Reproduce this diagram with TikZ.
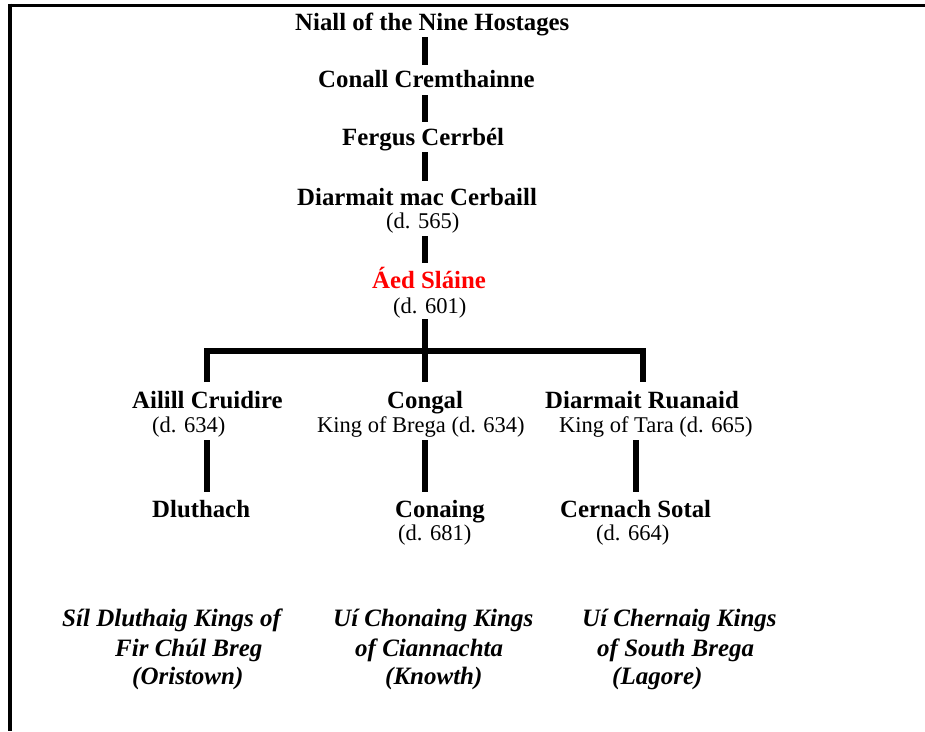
\documentclass[tikz,border=0pt]{standalone}
\usepackage{fontspec}
\setmainfont{Liberation Serif}
\definecolor{aedred}{RGB}{255,0,0}
\tikzset{
  person/.style={anchor=base west, inner sep=0pt, font=\fontsize{24.8}{26}\selectfont\bfseries},
  note/.style={anchor=base west, inner sep=0pt, font=\fontsize{22.5}{24}\selectfont},
  dyn/.style={anchor=base west, inner sep=0pt, font=\fontsize{25}{26}\selectfont\bfseries\itshape},
  bar/.style={line width=6pt, line cap=butt, line join=miter},
  frame/.style={line width=3.8pt}
}
\begin{document}
\begin{tikzpicture}[x=1pt,y=-1pt]
\useasboundingbox (0,0) rectangle (925,731);
% frame
\draw[frame] (925,5.5) -- (8,5.5);
\draw[frame] (10,3.6) -- (10,731);

% people
\node[person] (niall) at (295,30) {Niall of the Nine Hostages};
\node[person] (conall) at (318,87) {Conall Cremthainne};
\node[person] (fergus) at (342,145) {Fergus Cerrbél};
\node[person] (diarmait) at (297,205) {Diarmait mac Cerbaill};
\node[note] (diarmaitd) at (386,228) {(d. 565)};
\node[person, text=aedred] (aed) at (372,288) {Áed Sláine};
\node[note] (aedd) at (393,313) {(d. 601)};
\node[person] (ailill) at (132,408) {Ailill Cruidire};
\node[note] (aililld) at (152,432) {(d. 634)};
\node[person] (congal) at (387,408) {Congal};
\node[note] (congald) at (317,432) {King of Brega (d. 634)};
\node[person] (ruanaid) at (545,408) {Diarmait Ruanaid};
\node[note] (ruanaidd) at (559,432) {King of Tara (d. 665)};
\node[person] (dluthach) at (152,517) {Dluthach};
\node[person] (conaing) at (395,517) {Conaing};
\node[note] (conaingd) at (398,540) {(d. 681)};
\node[person] (cernach) at (560,517) {Cernach Sotal};
\node[note] (cernachd) at (596,540) {(d. 664)};

% dynasties
\node[dyn] (sil1) at (62,626) {Síl Dluthaig Kings of};
\node[dyn] (sil2) at (115,656) {Fir Chúl Breg};
\node[dyn] (sil3) at (132,684) {(Oristown)};
\node[dyn] (chon1) at (333,626) {Uí Chonaing Kings};
\node[dyn] (chon2) at (355,656) {of Ciannachta};
\node[dyn] (chon3) at (385,684) {(Knowth)};
\node[dyn] (chern1) at (582,626) {Uí Chernaig Kings};
\node[dyn] (chern2) at (597,656) {of South Brega};
\node[dyn] (chern3) at (612,684) {(Lagore)};

% connector end points
\coordinate (a1) at (425,37);  \coordinate (a2) at (425,65);
\coordinate (b1) at (425,95);  \coordinate (b2) at (425,122);
\coordinate (c1) at (425,152); \coordinate (c2) at (425,181);
\coordinate (d1) at (425,236); \coordinate (d2) at (425,263);
\coordinate (e1) at (425,319); \coordinate (e2) at (425,382);
\coordinate (hl) at (206.5,350.5); \coordinate (hr) at (643,350.5);
\coordinate (l2) at (206.5,382); \coordinate (r2) at (643,382);
\coordinate (f1) at (206.5,440); \coordinate (f2) at (206.5,492);
\coordinate (g1) at (425,440);   \coordinate (g2) at (425,492);
\coordinate (h1) at (636,440);   \coordinate (h2) at (636,492);

\draw[bar] (a1) -- (a2);
\draw[bar] (b1) -- (b2);
\draw[bar] (c1) -- (c2);
\draw[bar] (d1) -- (d2);
\draw[bar] (e1) -- (e2);
\draw[bar] (l2) -- (hl) -- (hr) -- (r2);
\draw[bar] (f1) -- (f2);
\draw[bar] (g1) -- (g2);
\draw[bar] (h1) -- (h2);
\end{tikzpicture}
\end{document}
